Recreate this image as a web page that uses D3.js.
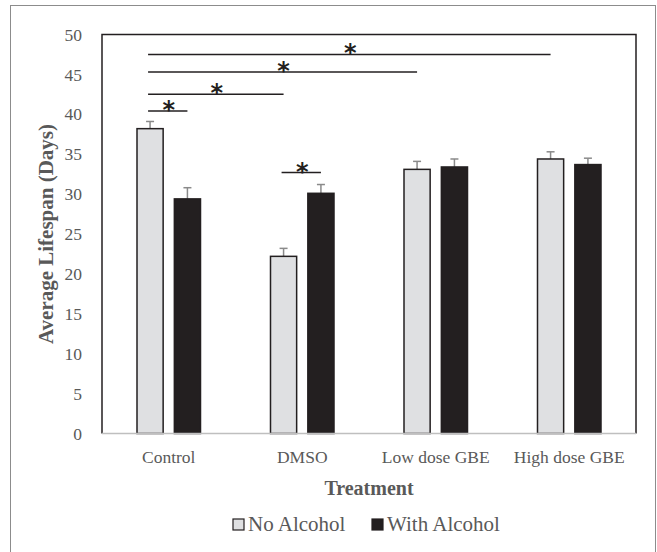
<!DOCTYPE html>
<html>
<head>
<meta charset="utf-8">
<script src="https://cdn.jsdelivr.net/npm/d3@7"></script>
<style>
  body { margin: 0; background: #fff; }
</style>
</head>
<body>
<svg width="657" height="552"></svg>
<script>
// groups and series
const categories = ["Control", "DMSO", "Low dose GBE", "High dose GBE"];
const series = ["No Alcohol", "With Alcohol"];
// mean lifespan (days)
const noAlcohol = [38.2, 22.2, 33.1, 34.4];
const withAlcohol = [29.4, 30.1, 33.4, 33.7];
// error bar (upper) sizes
const noAlcoholErr = [0.9, 1.0, 1.0, 0.9];
const withAlcoholErr = [1.4, 1.1, 1.0, 0.8];
const yTicks = [0, 5, 10, 15, 20, 25, 30, 35, 40, 45, 50];
// significance brackets: [from category, from series, to category, to series, level]
const sigLines = [
  ["Control", "No Alcohol", "High dose GBE", "No Alcohol", 47.5],
  ["Control", "No Alcohol", "Low dose GBE", "No Alcohol", 45.3],
  ["Control", "No Alcohol", "DMSO", "No Alcohol", 42.5],
  ["Control", "No Alcohol", "Control", "With Alcohol", 40.4],
  ["DMSO", "No Alcohol", "DMSO", "With Alcohol", 32.7]
];

const values = { "No Alcohol": noAlcohol, "With Alcohol": withAlcohol };
const errs = { "No Alcohol": noAlcoholErr, "With Alcohol": withAlcoholErr };
const fills = { "No Alcohol": "#dfe0e2", "With Alcohol": "#231f20" };
const textColor = "#595959";
const serif = "'Liberation Serif', 'Times New Roman', Tinos, 'DejaVu Serif', serif";

const svg = d3.select("svg");

// outer frame
svg.append("rect")
  .attr("x", 10.5).attr("y", 5.5)
  .attr("width", 645).attr("height", 560)
  .attr("fill", "none").attr("stroke", "#8c8c8c").attr("stroke-width", 1);

const plotLeft = 102, plotRight = 636, plotTop = 34.5, plotBottom = 433.5;

const x = d3.scaleBand().domain(categories).range([plotLeft, plotRight]).padding(0);
const xs = d3.scaleBand().domain(series).range([35, x.bandwidth() - 35]).paddingInner(0.3);
const y = d3.scaleLinear().domain([0, 50]).range([plotBottom, plotTop]);

const barX = (c, s) => x(c) + xs(s) + xs.bandwidth() / 2;

// plot border (left, top, right)
svg.append("path")
  .attr("d", `M${plotLeft},${plotBottom}V${plotTop}H${plotRight}V${plotBottom}`)
  .attr("fill", "none").attr("stroke", "#231f20").attr("stroke-width", 1.5);

// y axis labels
const yAxis = svg.append("g")
  .attr("transform", `translate(${plotLeft},0)`)
  .call(d3.axisLeft(y).tickValues(yTicks).tickSize(0).tickPadding(20))
  .attr("font-family", serif).attr("font-size", 17.5);
yAxis.select(".domain").remove();
yAxis.selectAll("text").attr("fill", textColor);

// bars
const rows = [];
categories.forEach((c, i) => series.forEach(s => rows.push({ c, s, v: values[s][i], e: errs[s][i] })));

// error bars
const eb = svg.append("g").attr("stroke", "#8a8a8a").attr("stroke-width", 1.5);
eb.selectAll("line.v").data(rows).enter().append("line")
  .attr("x1", d => barX(d.c, d.s)).attr("x2", d => barX(d.c, d.s))
  .attr("y1", d => y(d.v)).attr("y2", d => y(d.v + d.e));
eb.selectAll("line.h").data(rows).enter().append("line")
  .attr("x1", d => barX(d.c, d.s) - 4).attr("x2", d => barX(d.c, d.s) + 4)
  .attr("y1", d => y(d.v + d.e)).attr("y2", d => y(d.v + d.e));

svg.append("g").selectAll("rect").data(rows).enter().append("rect")
  .attr("x", d => x(d.c) + xs(d.s))
  .attr("y", d => y(d.v))
  .attr("width", xs.bandwidth())
  .attr("height", d => y(0) - y(d.v))
  .attr("fill", d => fills[d.s])
  .attr("stroke", "#231f20").attr("stroke-width", 1.5);

// x axis line
svg.append("line")
  .attr("x1", plotLeft).attr("x2", plotRight).attr("y1", plotBottom).attr("y2", plotBottom)
  .attr("stroke", "#bfbfbf").attr("stroke-width", 1.5);

// x labels
svg.append("g").selectAll("text").data(categories).enter().append("text")
  .attr("x", d => x(d) + x.bandwidth() / 2)
  .attr("y", 463)
  .attr("text-anchor", "middle")
  .attr("font-family", serif)
  .attr("font-size", 17.5).attr("fill", textColor)
  .text(d => d);

// significance lines with asterisks
const sig = svg.append("g");
sig.selectAll("line").data(sigLines).enter().append("line")
  .attr("x1", d => barX(d[0], d[1]) - 2).attr("x2", d => barX(d[2], d[3]))
  .attr("y1", d => y(d[4])).attr("y2", d => y(d[4]))
  .attr("stroke", "#231f20").attr("stroke-width", 1.5);
sig.selectAll("text").data(sigLines).enter().append("text")
  .attr("x", d => (barX(d[0], d[1]) + barX(d[2], d[3])) / 2)
  .attr("y", d => y(d[4]) + 7)
  .attr("text-anchor", "middle")
  .attr("font-family", "'DejaVu Sans', sans-serif")
  .attr("font-size", 24).attr("font-weight", "bold").attr("fill", "#231f20")
  .text("*");

// axis titles
svg.append("text")
  .attr("transform", `translate(53,${(plotTop + plotBottom) / 2}) rotate(-90)`)
  .attr("text-anchor", "middle")
  .attr("font-family", serif)
  .attr("font-size", 21).attr("font-weight", "bold").attr("fill", textColor)
  .text("Average Lifespan (Days)");

svg.append("text")
  .attr("x", (plotLeft + plotRight) / 2).attr("y", 495)
  .attr("text-anchor", "middle")
  .attr("font-family", serif)
  .attr("font-size", 20).attr("font-weight", "bold").attr("fill", textColor)
  .text("Treatment");

// legend
const legendX = [233, 372];
const lg = svg.append("g").selectAll("g").data(series).enter().append("g")
  .attr("transform", (d, i) => `translate(${legendX[i]},519)`);
lg.append("rect")
  .attr("width", 11).attr("height", 11)
  .attr("fill", d => fills[d]).attr("stroke", "#231f20").attr("stroke-width", 1.2);
lg.append("text")
  .attr("x", 15).attr("y", 12)
  .attr("font-family", serif)
  .attr("font-size", 21).attr("fill", textColor)
  .text(d => d);
</script>
</body>
</html>
